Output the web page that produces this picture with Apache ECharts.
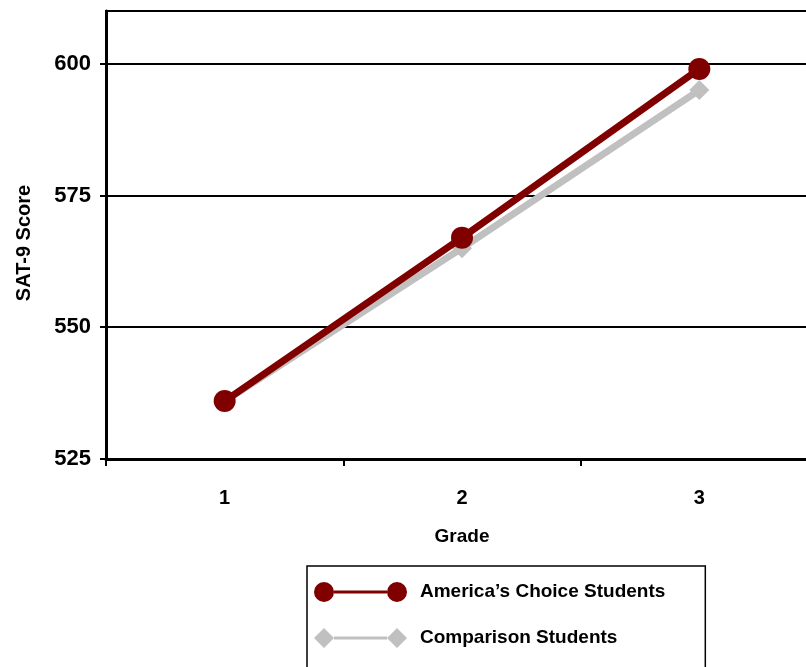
<!DOCTYPE html>
<html><head><meta charset="utf-8">
<script src="https://cdn.jsdelivr.net/npm/echarts@6/dist/echarts.min.js"></script>
<style>html,body{margin:0;padding:0;background:#fff}#c{width:806px;height:667px}</style>
</head><body><div id="c"></div>
<script>
const grades = ['1', '2', '3'];
const americasChoice = [536, 567, 599];
const comparison = [536, 565, 595];
const yTicks = [525, 550, 575, 600];
const seriesNames = ['America\u2019s Choice Students', 'Comparison Students'];

const FONT = "'Liberation Sans', Arial, sans-serif";
const circleIcon = 'path://M0,10 A10,10 0 1,1 20,10 A10,10 0 1,1 0,10 Z M73,10 A10,10 0 1,1 93,10 A10,10 0 1,1 73,10 Z M20,8.5 L73,8.5 L73,11.5 L20,11.5 Z';
const diamondIcon = 'path://M10,0 L20,10 L10,20 L0,10 Z M83,0 L93,10 L83,20 L73,10 Z M20,8.5 L73,8.5 L73,11.5 L20,11.5 Z';

const chart = echarts.init(document.getElementById('c'), null, {renderer: 'canvas'});
chart.setOption({
  animation: false,
  backgroundColor: '#fff',
  textStyle: {fontFamily: FONT},
  grid: {
    left: 106, top: 11, width: 712, height: 448,
    containLabel: false, outerBoundsMode: 'none',
    show: true, borderColor: '#000', borderWidth: 2, backgroundColor: 'transparent'
  },
  legend: {
    orient: 'vertical',
    left: 307, top: 566,
    height: 200,
    padding: [16, 40, 40, 7],
    itemGap: 26,
    itemWidth: 93, itemHeight: 20,
    borderColor: '#000', borderWidth: 1.5,
    selectedMode: false,
    itemStyle: {borderWidth: 0},
    textStyle: {fontFamily: FONT, fontSize: 19, fontWeight: 'bold', color: '#000', padding: [0, 0, 0, 8]},
    data: [
      {name: seriesNames[0], icon: circleIcon},
      {name: seriesNames[1], icon: diamondIcon}
    ]
  },
  xAxis: {
    type: 'category',
    data: grades,
    boundaryGap: true,
    name: 'Grade',
    nameLocation: 'middle',
    nameGap: 68,
    nameTextStyle: {fontFamily: FONT, fontSize: 19, fontWeight: 'bold', color: '#000'},
    axisLine: {lineStyle: {color: '#000', width: 3}},
    axisTick: {show: true, length: 7, lineStyle: {color: '#000', width: 2}},
    axisLabel: {margin: 29, fontFamily: FONT, fontSize: 20, fontWeight: 'bold', color: '#000'},
    splitLine: {show: false}
  },
  yAxis: {
    type: 'value',
    min: 525, max: 610, interval: 25,
    name: 'SAT-9 Score',
    nameLocation: 'middle',
    nameGap: 72,
    nameRotate: 90,
    nameTextStyle: {fontFamily: FONT, fontSize: 20, fontWeight: 'bold', color: '#000', padding: [0, 16, 0, 0]},
    axisLine: {show: true, lineStyle: {color: '#000', width: 3}},
    axisTick: {show: true, length: 6, customValues: yTicks, lineStyle: {color: '#000', width: 2}},
    axisLabel: {
      margin: 15, fontFamily: FONT, fontSize: 22, fontWeight: 'bold', color: '#000',
      customValues: yTicks
    },
    splitLine: {show: true, lineStyle: {color: '#000', width: 2}}
  },
  series: [
    {
      name: seriesNames[1],
      type: 'line',
      data: comparison,
      z: 2,
      color: '#C0C0C0',
      symbol: 'diamond',
      symbolSize: 20,
      lineStyle: {color: '#C0C0C0', width: 7},
      itemStyle: {color: '#C0C0C0', borderWidth: 0}
    },
    {
      name: seriesNames[0],
      type: 'line',
      data: americasChoice,
      z: 3,
      color: '#800000',
      symbol: 'circle',
      symbolSize: 22,
      lineStyle: {color: '#800000', width: 7},
      itemStyle: {color: '#800000', borderWidth: 0}
    }
  ]
});
</script>
</body></html>
